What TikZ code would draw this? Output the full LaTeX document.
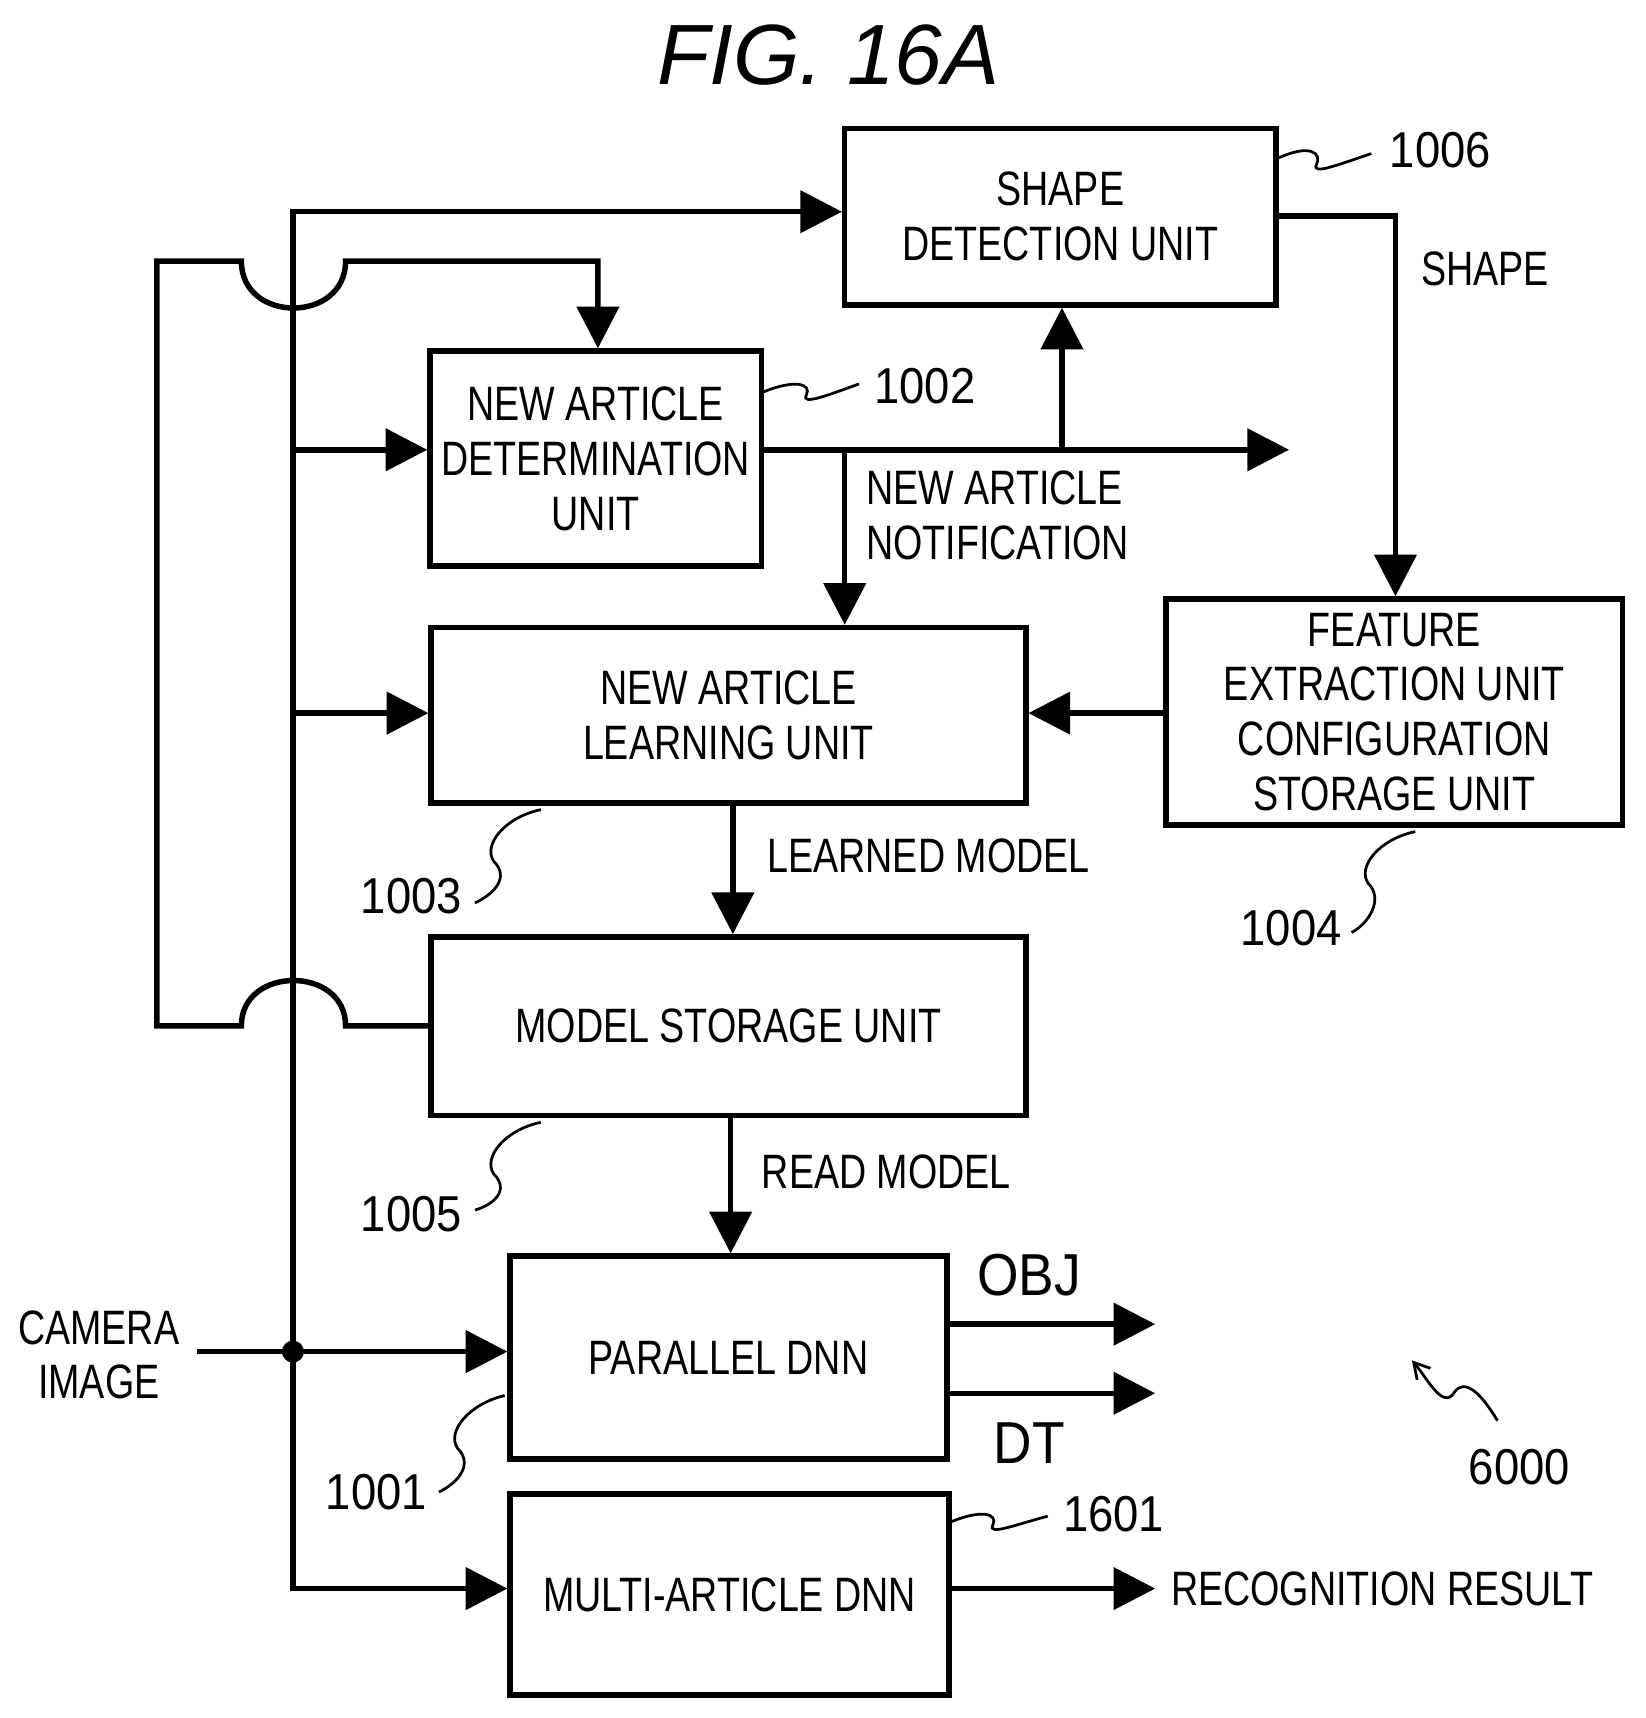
\documentclass[tikz,border=0pt]{standalone}
\usepackage{fontspec}
\setmainfont{Liberation Sans}[FakeStretch=0.78]
\usetikzlibrary{arrows.meta,calc}
\begin{document}
\begin{tikzpicture}[x=1pt,y=-1pt,line width=5pt,
  box/.style={draw,line width=5pt,inner sep=0pt,align=center,font=\fontsize{44}{50}\selectfont},
  lbl/.style={font=\fontsize{44}{50}\selectfont,align=left,inner sep=0pt},
  num/.style={font=\fontsize{46}{50}\selectfont\addfontfeatures{FakeStretch=0.9},inner sep=0pt},
  arr/.style={-{Triangle[length=38pt,width=38pt]}},
  sq/.style={line width=2.5pt}]
\useasboundingbox (0,0) rectangle (1500,1566);
\node[font=\fontsize{78}{80}\selectfont\itshape\addfontfeatures{FakeStretch=1}] (title) at (755,50) {FIG.\ 16A};
% boxes
\node[box,minimum width=393pt,minimum height=161pt] (sd) at (966.5,197.5) {SHAPE\\DETECTION UNIT};
\node[box,minimum width=302pt,minimum height=196pt] (nad) at (543,418) {NEW ARTICLE\\DETERMINATION\\UNIT};
\node[box,minimum width=542pt,minimum height=160pt] (nal) at (664,652) {NEW ARTICLE\\LEARNING UNIT};
\node[box,minimum width=416pt,minimum height=206pt] (fe) at (1271,649) {FEATURE\\EXTRACTION UNIT\\CONFIGURATION\\STORAGE UNIT};
\node[box,minimum width=542pt,minimum height=163pt] (ms) at (664,935.5) {MODEL STORAGE UNIT};
\node[box,minimum width=398pt,minimum height=185pt] (pd) at (664,1237.5) {PARALLEL DNN};
\node[box,minimum width=400pt,minimum height=183pt] (md) at (665,1453.5) {MULTI-ARTICLE DNN};
% labels
\node[lbl,align=center] (cam) at (90,1235) {CAMERA\\IMAGE};
\node[lbl,anchor=west] (shp) at (1293,245) {SHAPE};
\node[lbl,anchor=west] (nan) at (787,470) {NEW ARTICLE\\NOTIFICATION};
\node[lbl,anchor=west] (lm) at (697,780) {LEARNED MODEL};
\node[lbl,anchor=west] (rm) at (692,1068) {READ MODEL};
\node[font=\fontsize{54}{56}\selectfont\addfontfeatures{FakeStretch=0.9},inner sep=0pt] (obj) at (938,1162) {OBJ};
\node[font=\fontsize{54}{56}\selectfont\addfontfeatures{FakeStretch=0.9},inner sep=0pt] (dt) at (938,1315) {DT};
\node[lbl,anchor=west] (rr) at (1065,1448) {RECOGNITION RESULT};
\node[num] (n1006) at (1313,137) {1006};
\node[num] (n1002) at (843,352) {1002};
\node[num] (n1003) at (375,817) {1003};
\node[num] (n1004) at (1177,846) {1004};
\node[num] (n1005) at (375,1107) {1005};
\node[num] (n1001) at (343,1360) {1001};
\node[num] (n1601) at (1015,1380) {1601};
\node[num] (n6000) at (1385,1337) {6000};
% coordinates
\coordinate (dot) at (267,1232);
\coordinate (top) at (267,193);
\coordinate (bot) at (267,1448);
\coordinate (nadout) at (1175,410);
\coordinate (objend) at (1053,1207);
\coordinate (dtend) at (1053,1270);
\coordinate (rrend) at (1053,1448);
% bus
\fill (dot) circle (10pt);
\draw[arr] (180,1232) -- (pd.west|-dot);
\draw[arr] (dot) -- (top) -- (sd.west|-top);
\draw[arr] (dot) -- (bot) -- (md.west|-bot);
\draw[arr] (267,410) -- (nad.west|-nadout);
\draw[arr] (267,650) -- (nal.west|-0,650);
% determination output
\draw[arr] (nad.east|-nadout) -- (nadout);
\draw[arr] (968,410) -- (sd.south-|968,0);
\draw[arr] (770,410) -- (nal.north-|770,0);
% shape
\draw[arr] (sd.east|-0,197) -- (1272,197) -- (fe.north-|1272,0);
\draw[arr] (fe.west|-0,650) -- (nal.east|-0,650);
\draw[arr] (nal.south-|668,0) -- (ms.north-|668,0);
\draw[arr] (ms.south-|666,0) -- (pd.north-|666,0);
\draw[arr] (pd.east|-objend) -- (objend);
\draw[arr] (pd.east|-dtend) -- (dtend);
\draw[arr] (md.east|-rrend) -- (rrend);
% loop with hops
\draw[arr] (ms.west|-0,935) -- (315,935) .. controls (315,880) and (220,880) .. (220,935) -- (143,935) -- (143,238) -- (220,238)
  .. controls (220,295) and (315,295) .. (315,238) -- (545,238) -- (nad.north-|545,0);
% squiggles
\draw[sq] (1163,145) .. controls (1195,130) and (1205,140) .. (1200,150) .. controls (1195,160) and (1220,150) .. (1250,140);
\draw[sq] (694,358) .. controls (725,345) and (740,350) .. (735,360) .. controls (730,370) and (755,360) .. (783,350);
\draw[sq] (865,1388) .. controls (895,1375) and (910,1380) .. (905,1390) .. controls (900,1400) and (925,1390) .. (955,1382);
\draw[sq] (493,738) .. controls (460,745) and (440,770) .. (450,785) .. controls (465,800) and (450,815) .. (433,823);
\draw[sq] (493,1023) .. controls (460,1030) and (440,1055) .. (450,1070) .. controls (465,1085) and (450,1098) .. (433,1103);
\draw[sq] (460,1272) .. controls (427,1280) and (407,1305) .. (417,1320) .. controls (432,1335) and (417,1352) .. (400,1360);
\draw[sq] (1290,758) .. controls (1257,765) and (1237,790) .. (1247,805) .. controls (1262,820) and (1247,842) .. (1232,850);
\draw[sq,-{Straight Barb[length=14pt,width=16pt]}] (1365,1295) .. controls (1350,1270) and (1335,1255) .. (1325,1270) .. controls (1315,1285) and (1300,1255) .. (1287,1240);
\end{tikzpicture}
\end{document}
